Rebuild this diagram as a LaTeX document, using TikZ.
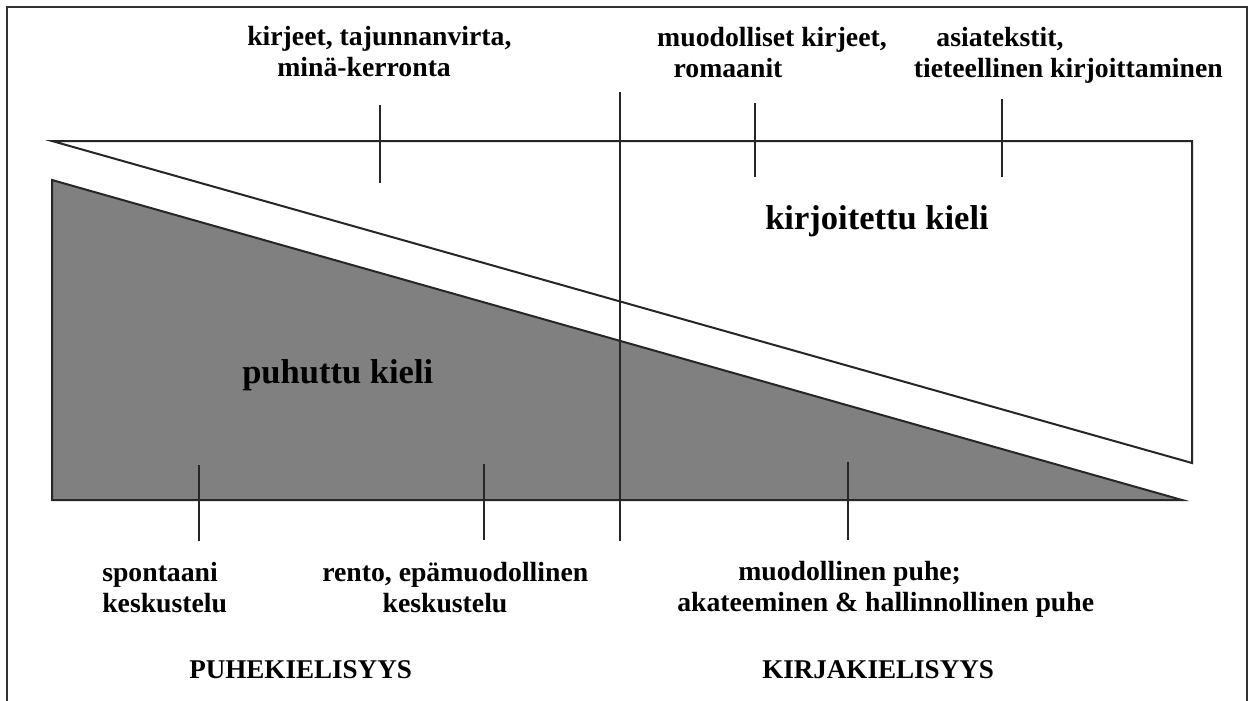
\documentclass[tikz,border=0pt]{standalone}
\usepackage{fontspec}
\setmainfont{Liberation Serif}
\tikzset{
  px/.style={x=0.75pt,y=-0.75pt},
  ln/.style={draw=black!85,line width=1.5pt},
  lbl/.style={inner sep=0pt,font=\bfseries\fontsize{20.8pt}{23pt}\selectfont},
  biglbl/.style={inner sep=0pt,font=\bfseries\fontsize{25.9pt}{28pt}\selectfont},
  capslbl/.style={inner sep=0pt,font=\bfseries\fontsize{20.3pt}{23pt}\selectfont},
}
\begin{document}
\begin{tikzpicture}[px]
\useasboundingbox (0,0) rectangle (1249,700);
\fill[white] (0,0) rectangle (1249,700);
% outer frame
\draw[draw=black!80,line width=1.5pt] (7,712) -- (7,7) -- (1247,7) -- (1247,712);
% white triangle (written language)
\coordinate (wA) at (52,141);
\coordinate (wB) at (1192,141);
\coordinate (wC) at (1192,463);
\draw[ln,fill=white] (wA) -- (wB) -- (wC) -- cycle;
% gray triangle (spoken language)
\coordinate (gA) at (52,180);
\coordinate (gB) at (52,500);
\coordinate (gC) at (1182,500);
\draw[ln,fill=black!50] (gA) -- (gB) -- (gC) -- cycle;
% central vertical line
\coordinate (cT) at (620,92);
\coordinate (cB) at (620,541);
\draw[ln] (cT) -- (cB);
% ticks top
\coordinate (t1a) at (380,105); \coordinate (t1b) at (380,183);
\coordinate (t2a) at (755,103); \coordinate (t2b) at (755,177);
\coordinate (t3a) at (1002,99); \coordinate (t3b) at (1002,177);
\draw[ln] (t1a) -- (t1b);
\draw[ln] (t2a) -- (t2b);
\draw[ln] (t3a) -- (t3b);
% ticks bottom
\coordinate (b1a) at (199,465); \coordinate (b1b) at (199,541);
\coordinate (b2a) at (484,464); \coordinate (b2b) at (484,540);
\coordinate (b3a) at (848,462); \coordinate (b3b) at (848,540);
\draw[ln] (b1a) -- (b1b);
\draw[ln] (b2a) -- (b2b);
\draw[ln] (b3a) -- (b3b);
% top labels
\node[lbl,anchor=base west] (l1a) at (247,45) {kirjeet, tajunnanvirta,};
\node[lbl,anchor=base west] (l1b) at (277,76) {minä-kerronta};
\node[lbl,anchor=base] (l2a) at (772,46) {muodolliset kirjeet,};
\node[lbl,anchor=base] (l2b) at (728,77) {romaanit};
\node[lbl,anchor=base] (l3a) at (1000,46) {asiatekstit,};
\node[lbl,anchor=base east] (l3b) at (1223,77) {tieteellinen kirjoittaminen};
% big labels
\node[biglbl,anchor=base west] (kk) at (765,229) {kirjoitettu kieli};
\node[biglbl,anchor=base west] (pk) at (242,383) {puhuttu kieli};
% bottom labels
\node[lbl,anchor=base west] (s1) at (102,581) {spontaani};
\node[lbl,anchor=base west] (s2) at (102,612) {keskustelu};
\node[lbl,anchor=base west] (r1) at (322,581) {rento, epämuodollinen};
\node[lbl,anchor=base] (r2) at (445,612) {keskustelu};
\node[lbl,anchor=base west] (m1) at (738,580) {muodollinen puhe;};
\node[lbl,anchor=base west] (m2) at (677,611) {akateeminen \& hallinnollinen puhe};
% caps labels
\node[capslbl,anchor=base west] (pu) at (189,678) {PUHEKIELISYYS};
\node[capslbl,anchor=base west] (ki) at (762,678) {KIRJAKIELISYYS};
\end{tikzpicture}
\end{document}
